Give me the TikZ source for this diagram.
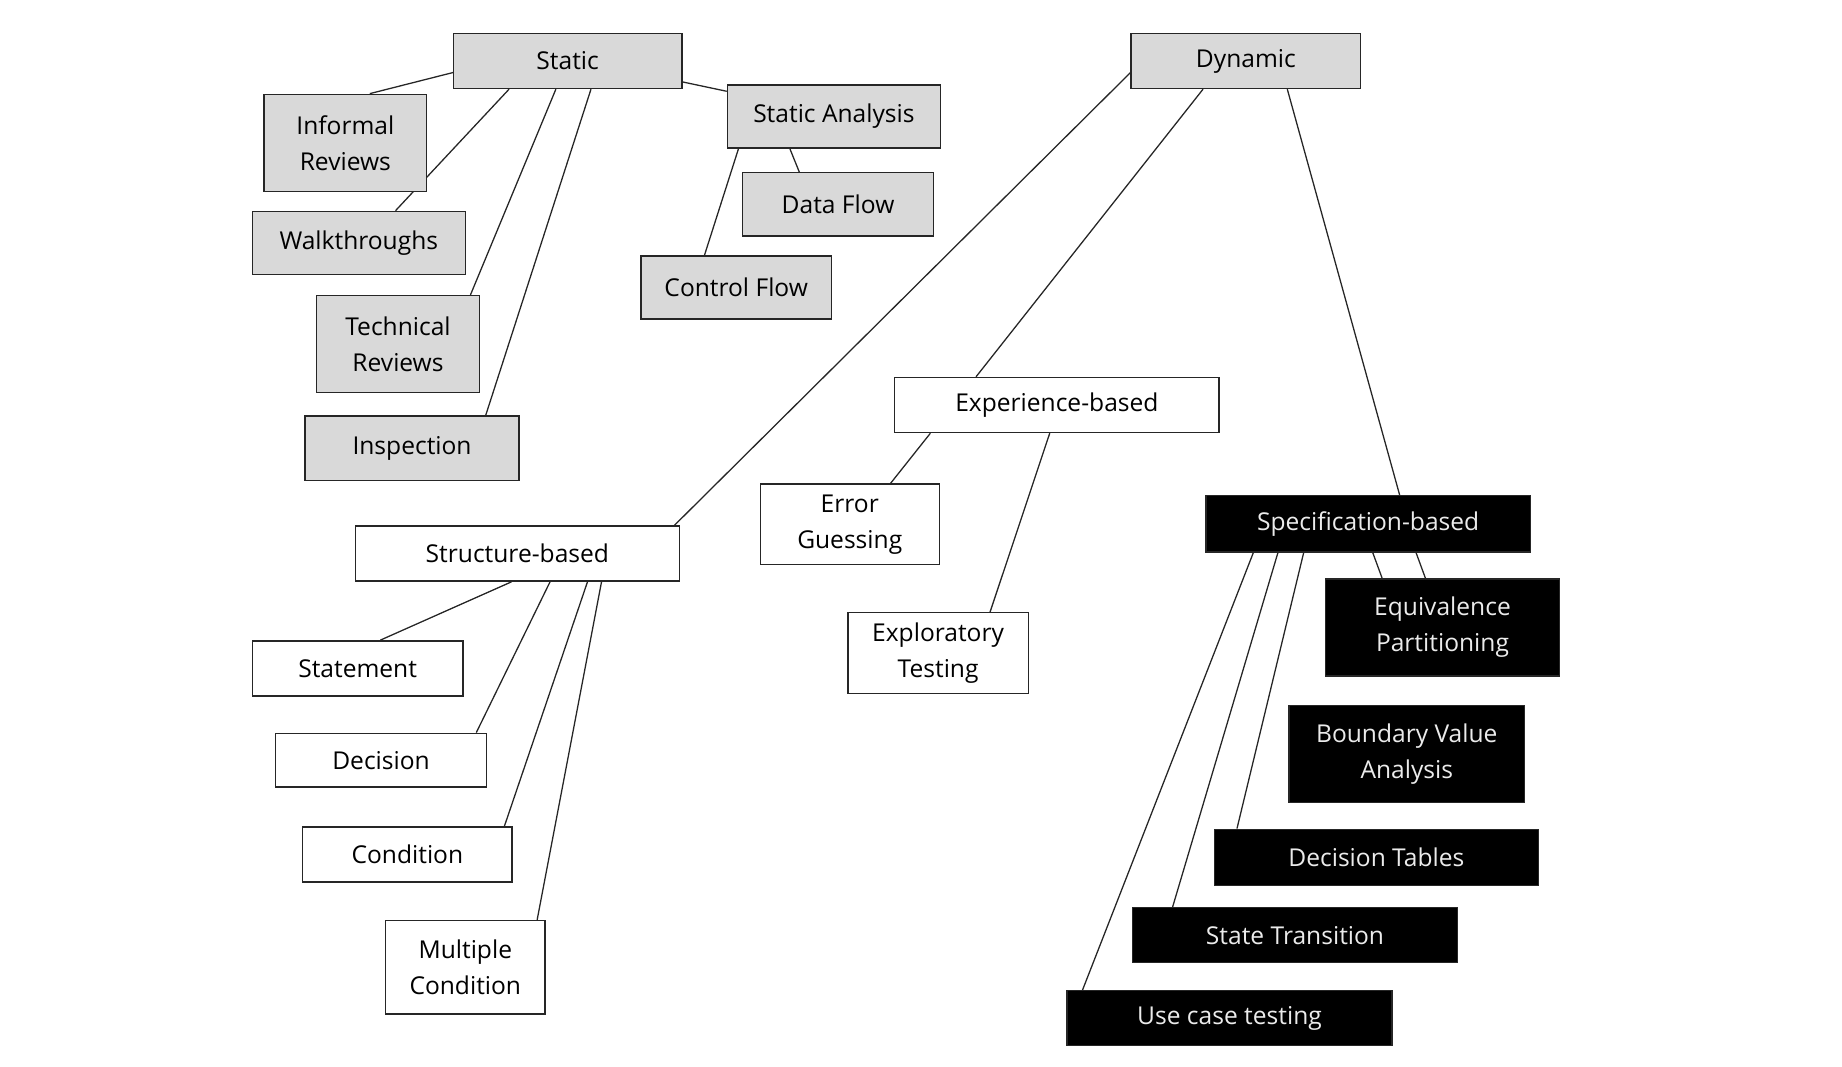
\documentclass[tikz,border=0pt]{standalone}
\usepackage{fontspec}
\setmainfont{Open Sans}
\usetikzlibrary{calc,backgrounds}
\begin{document}
\begin{tikzpicture}[x=1pt,y=-1pt,
  base/.style={draw=black!85,line width=1.2pt,inner sep=0pt,anchor=north west,align=center,font=\fontsize{21}{31}\selectfont},
  gbox/.style={base,fill=black!15},
  wbox/.style={base,fill=white},
  bbox/.style={base,fill=black,text=white!92!black},
  ln/.style={line width=1.1pt,black!85}]
\useasboundingbox (0,0) rectangle (1574,911);
\newcommand{\bx}[7]{\node[#1,minimum width=#5-#3,minimum height=#6-#4] (#2) at (#3,#4) {#7};}
\bx{gbox}{st}{387}{28}{582}{75}{Static}
\bx{gbox}{dyn}{966}{28}{1162}{75}{Dynamic}
\bx{gbox}{inf}{225}{80}{364}{163}{Informal\\Reviews}
\bx{gbox}{walk}{215}{180}{397}{234}{Walkthroughs}
\bx{gbox}{tech}{270}{252}{409}{335}{Technical\\Reviews}
\bx{gbox}{insp}{260}{355}{443}{410}{Inspection}
\bx{gbox}{sa}{621}{72}{803}{126}{Static Analysis}
\bx{gbox}{df}{634}{147}{797}{201}{Data Flow}
\bx{gbox}{cf}{547}{218}{710}{272}{Control Flow}
\bx{wbox}{exp}{764}{322}{1041}{369}{Experience-based}
\bx{wbox}{err}{649}{413}{802}{482}{Error\\Guessing}
\bx{wbox}{expl}{724}{523}{878}{592}{Exploratory\\Testing}
\bx{wbox}{str}{303}{449}{580}{496}{Structure-based}
\bx{wbox}{stm}{215}{547}{395}{594}{Statement}
\bx{wbox}{dec}{235}{626}{415}{672}{Decision}
\bx{wbox}{cond}{258}{706}{437}{753}{Condition}
\bx{wbox}{mult}{329}{786}{465}{866}{Multiple\\Condition}
\bx{bbox}{spec}{1030}{423}{1307}{471}{Specification-based}
\bx{bbox}{eq}{1132}{494}{1332}{577}{Equivalence\\Partitioning}
\bx{bbox}{bva}{1101}{602}{1302}{685}{Boundary Value\\Analysis}
\bx{bbox}{dt}{1037}{708}{1314}{756}{Decision Tables}
\bx{bbox}{stt}{967}{775}{1245}{822}{State Transition}
\bx{bbox}{uc}{911}{846}{1189}{893}{Use case testing}
\begin{scope}[on background layer]
\draw[ln] ($(st.north west)+(0,34)$) -- ($(inf.north west)+(91,0)$);
\draw[ln] ($(st.south west)+(48,0)$) -- ($(walk.north west)+(123,0)$);
\draw[ln] ($(st.south west)+(88,0)$) -- ($(tech.north west)+(132,0)$);
\draw[ln] ($(st.south west)+(118,0)$) -- ($(insp.north west)+(155,0)$);
\draw[ln] ($(st.north east)+(0,42)$) -- ($(sa.north west)+(0,6)$);
\draw[ln] ($(sa.south west)+(54,0)$) -- ($(df.north west)+(49,0)$);
\draw[ln] ($(sa.south west)+(10,0)$) -- ($(cf.north west)+(55,0)$);
\draw[ln] ($(dyn.north west)+(0,34)$) -- ($(str.north east)+(-5,0)$);
\draw[ln] ($(dyn.south west)+(62,0)$) -- ($(exp.north west)+(70,0)$);
\draw[ln] ($(dyn.south west)+(134,0)$) -- ($(spec.north west)+(166,0)$);
\draw[ln] ($(exp.south west)+(31,0)$) -- ($(err.north west)+(112,0)$);
\draw[ln] ($(exp.south west)+(133,0)$) -- ($(expl.north west)+(122,0)$);
\draw[ln] ($(str.south west)+(134,0)$) -- ($(stm.north west)+(110,0)$);
\draw[ln] ($(str.south west)+(167,0)$) -- ($(dec.north west)+(172,0)$);
\draw[ln] ($(str.south west)+(199,0)$) -- ($(cond.north west)+(173,0)$);
\draw[ln] ($(str.south west)+(211,0)$) -- ($(mult.north west)+(130,0)$);
\draw[ln] ($(spec.south west)+(143,0)$) -- ($(eq.north west)+(49,0)$);
\draw[ln] ($(spec.south west)+(180,0)$) -- ($(eq.north west)+(86,0)$);
\draw[ln] ($(spec.south west)+(41,0)$) -- ($(uc.north west)+(14,0)$);
\draw[ln] ($(spec.south west)+(62,0)$) -- ($(stt.north west)+(35,0)$);
\draw[ln] ($(spec.south west)+(84,0)$) -- ($(dt.north west)+(20,0)$);
\end{scope}
\end{tikzpicture}
\end{document}
